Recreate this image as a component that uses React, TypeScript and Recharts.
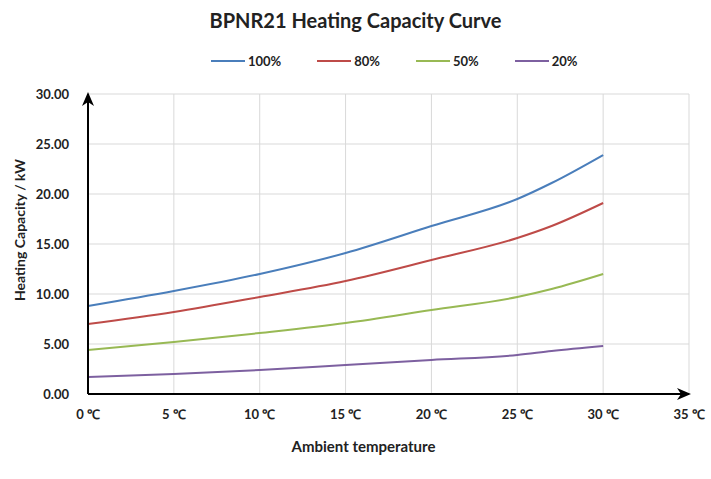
import { CartesianGrid, Line, LineChart, XAxis, YAxis } from "recharts";

const temps = [0, 5, 10, 15, 20, 25, 27, 30];
const cap100 = [8.8, 10.3, 12.0, 14.1, 16.8, 19.5, 21.1, 23.9];
const cap80 = [7.0, 8.2, 9.7, 11.3, 13.4, 15.6, 16.8, 19.1];
const cap50 = [4.4, 5.2, 6.1, 7.1, 8.4, 9.7, 10.5, 12.0];
const cap20 = [1.7, 2.0, 2.4, 2.9, 3.4, 3.9, 4.3, 4.8];

const xTicks = [0, 5, 10, 15, 20, 25, 30, 35];
const yTicks = [0, 5, 10, 15, 20, 25, 30];

const series = [
  { key: "c100", name: "100%", color: "#4a7ebb" },
  { key: "c80", name: "80%", color: "#be4b48" },
  { key: "c50", name: "50%", color: "#98b954" },
  { key: "c20", name: "20%", color: "#7d60a0" },
];

const data = temps.map((t, i) => ({
  t,
  c100: cap100[i],
  c80: cap80[i],
  c50: cap50[i],
  c20: cap20[i],
}));

const font = "Lato, 'Open Sans', sans-serif";

export default function App() {
  return (
    <div style={{ position: "absolute", left: 0, top: 0, width: 711, height: 479, background: "#fff", fontFamily: font }}>
      <div style={{ position: "absolute", top: 8, width: 711, textAlign: "center", fontSize: 20, fontWeight: 700, color: "#222" }}>
        BPNR21 Heating Capacity Curve
      </div>
      <div style={{ position: "absolute", top: 53, left: 211, display: "flex", fontSize: 13, fontWeight: 700, color: "#222" }}>
        {series.map((s) => (
          <div key={s.key} style={{ display: "flex", alignItems: "center", marginRight: 36 }}>
            <div style={{ width: 34, height: 2, background: s.color, marginRight: 3 }} />
            <span>{s.name}</span>
          </div>
        ))}
      </div>
      <LineChart width={711} height={479} data={data} margin={{ top: 94, right: 22, left: 28, bottom: 45 }}>
        <defs>
          <marker id="arrow" viewBox="0 0 14 12" refX="12" refY="6" markerWidth="14" markerHeight="12" markerUnits="userSpaceOnUse" orient="auto-start-reverse">
            <path d="M0,0 L14,6 L0,12 L4,6 Z" fill="#000" />
          </marker>
        </defs>
        <CartesianGrid stroke="#d9d9d9" />
        <XAxis
          dataKey="t"
          type="number"
          domain={[0, 35]}
          ticks={xTicks}
          tickFormatter={(v) => `${v} ℃`}
          tickLine={false}
          axisLine={{ stroke: "#000", strokeWidth: 2, markerEnd: "url(#arrow)" }}
          tick={{ fill: "#222", fontSize: 13, fontWeight: 700, fontFamily: font }}
          tickMargin={10}
          height={40}
          label={{ value: "Ambient temperature", position: "bottom", dx: -25, offset: 7, fill: "#222", fontSize: 15, fontWeight: 700, fontFamily: font }}
        />
        <YAxis
          type="number"
          domain={[0, 30]}
          ticks={yTicks}
          tickFormatter={(v) => v.toFixed(2)}
          tickLine={false}
          axisLine={{ stroke: "#000", strokeWidth: 2, markerStart: "url(#arrow)" }}
          tick={{ fill: "#222", fontSize: 13, fontWeight: 700, fontFamily: font }}
          tickMargin={13}
          width={60}
          label={{ value: "Heating Capacity / kW", angle: -90, position: "center", dx: -38, dy: -14, fill: "#222", fontSize: 14, fontWeight: 700, fontFamily: font }}
        />
        {series.map((s) => (
          <Line key={s.key} dataKey={s.key} name={s.name} type="monotone" stroke={s.color} strokeWidth={2} dot={false} isAnimationActive={false} />
        ))}
      </LineChart>
    </div>
  );
}
